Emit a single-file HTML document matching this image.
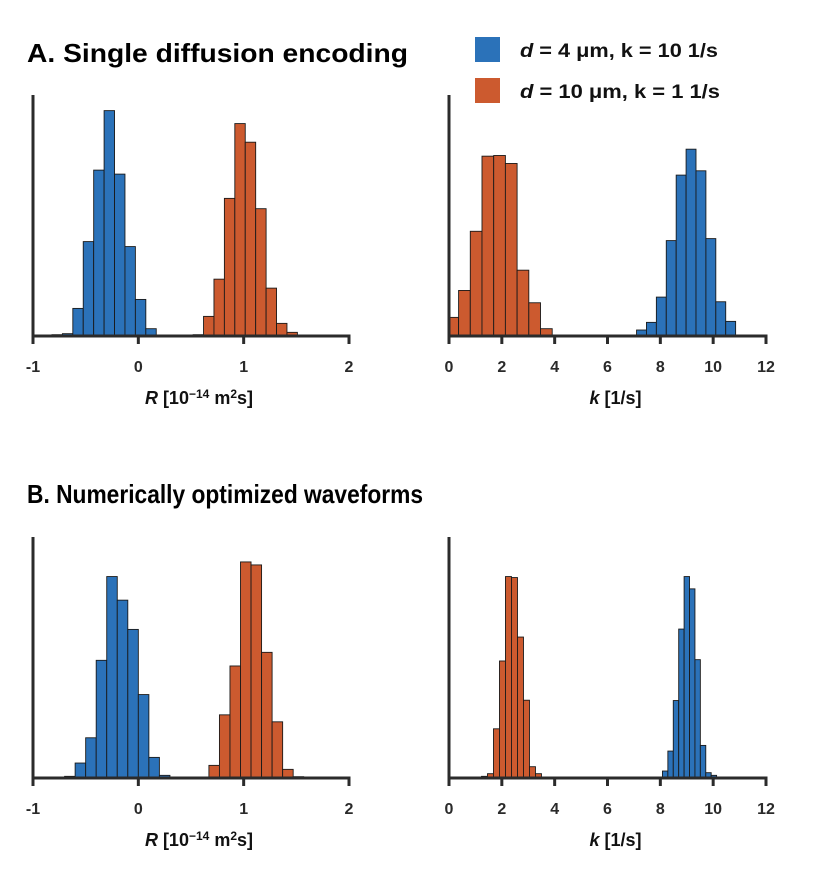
<!DOCTYPE html>
<html><head><meta charset="utf-8"><style>
body{margin:0;background:#fff;}
svg text{font-family:"Liberation Sans",Arial,sans-serif;font-weight:bold;}
</style></head><body>
<svg id="fig" width="816" height="888" viewBox="0 0 816 888" xmlns="http://www.w3.org/2000/svg">
<text x="27" y="62" font-size="26" textLength="381" lengthAdjust="spacingAndGlyphs" fill="#000">A. Single diffusion encoding</text>
<text x="27" y="503" font-size="26" textLength="396" lengthAdjust="spacingAndGlyphs" fill="#000">B. Numerically optimized waveforms</text>
<g>
<rect x="475" y="37" width="25" height="25" fill="#2b72b9"/>
<text x="520" y="57" font-size="19" textLength="198" lengthAdjust="spacingAndGlyphs" fill="#111"><tspan font-style="italic">d</tspan> = 4 μm, k = 10 1/s</text>
<rect x="475" y="78" width="25" height="25" fill="#cc5a2f"/>
<text x="520" y="98" font-size="19" textLength="200" lengthAdjust="spacingAndGlyphs" fill="#111"><tspan font-style="italic">d</tspan> = 10 μm, k = 1 1/s</text>
</g>
</svg>
<script>
// Panel A left (R)
const aR_ticks = [-1, 0, 1, 2];
const aR_blueStart = -0.82, aR_blueWidth = 0.099;
const aR_blueCounts = [4, 7, 83, 284, 499, 678, 487, 269, 110, 22];
const aR_orangeStart = 0.52, aR_orangeWidth = 0.099;
const aR_orangeCounts = [4, 59, 171, 414, 639, 583, 383, 144, 38, 11];
// Panel A right (k)
const aK_ticks = [0, 2, 4, 6, 8, 10, 12];
const aK_orangeStart = -0.08, aK_orangeWidth = 0.443;
const aK_orangeCounts = [56, 137, 315, 541, 543, 519, 198, 100, 22];
const aK_blueStart = 7.10, aK_blueWidth = 0.375;
const aK_blueCounts = [18, 41, 117, 287, 484, 562, 497, 293, 103, 44];
// Panel B left (R)
const bR_ticks = [-1, 0, 1, 2];
const bR_blueStart = -0.70, bR_blueWidth = 0.1;
const bR_blueCounts = [5, 45, 121, 354, 606, 535, 447, 251, 62, 8];
const bR_orangeStart = 0.57, bR_orangeWidth = 0.1;
const bR_orangeCounts = [2, 38, 190, 337, 650, 641, 378, 169, 26, 4];
// Panel B right (k)
const bK_ticks = [0, 2, 4, 6, 8, 10, 12];
const bK_orangeStart = 1.23, bK_orangeWidth = 0.227;
const bK_orangeCounts = [5, 13, 148, 352, 606, 603, 424, 234, 34, 13];
const bK_blueStart = 8.08, bK_blueWidth = 0.205;
const bK_blueCounts = [21, 81, 233, 448, 606, 569, 356, 98, 16, 8];

const NS = "http://www.w3.org/2000/svg";
const svg = document.getElementById('fig');
const BLUE = "#2b72b9", ORANGE = "#cc5a2f", AX = "#2b2b2b";
const YMAX = 725;

function mk(tag, attrs, parent) {
  const e = document.createElementNS(NS, tag);
  for (const k in attrs) e.setAttribute(k, attrs[k]);
  (parent || svg).appendChild(e);
  return e;
}

function panel(name, x0, x1, base, top, dmin, dmax, ticks, series, label) {
  const g = mk('g', {});
  
  
  const xs = v => x0 + (v - dmin) / (dmax - dmin) * (x1 - x0);
  const ys = c => base - c / YMAX * (base - top);
  series.forEach(s => {
    s.counts.forEach((c, i) => {
      let a = s.start + i * s.width, b = a + s.width;
      if (a < dmin) a = dmin;
      const r = mk('rect', {x: xs(a), y: ys(c), width: xs(b) - xs(a), height: base - ys(c),
        fill: s.color, stroke: '#1a1a1a', 'stroke-width': 0.9}, g);
      
      
    });
  });
  const ya = mk('line', {x1: x0, y1: top, x2: x0, y2: base + 1.5, stroke: AX, 'stroke-width': 3}, g);
  
  
  const xa = mk('line', {x1: x0 - 1.5, y1: base, x2: x1 + 1.5, y2: base, stroke: AX, 'stroke-width': 3}, g);
  
  
  ticks.forEach(t => {
    const tl = mk('line', {x1: xs(t), y1: base, x2: xs(t), y2: base + 8, stroke: AX, 'stroke-width': 3}, g);
    
    
    const tt = mk('text', {x: xs(t), y: base + 36, 'text-anchor': 'middle', 'font-size': 16, fill: '#2a2a2a'}, g);
    tt.textContent = String(t);
    
    
  });
  const lab = mk('text', {x: (x0 + x1) / 2 + 8, y: base + 68, 'text-anchor': 'middle', 'font-size': 18, fill: '#111'}, g);
  lab.innerHTML = label;
  
  
}

const rLabel = '<tspan font-style="italic">R</tspan> [10<tspan font-size="12" dy="-6">−14</tspan><tspan dy="6"> m</tspan><tspan font-size="12" dy="-6">2</tspan><tspan dy="6">s]</tspan>';
const kLabel = '<tspan font-style="italic">k</tspan> [1/s]';

panel('panel-a-r-histogram', 33, 349, 336, 95, -1, 2, aR_ticks, [
  {name: 'blue', start: aR_blueStart, width: aR_blueWidth, counts: aR_blueCounts, color: BLUE},
  {name: 'orange', start: aR_orangeStart, width: aR_orangeWidth, counts: aR_orangeCounts, color: ORANGE}], rLabel);
panel('panel-a-k-histogram', 449, 766, 336, 95, 0, 12, aK_ticks, [
  {name: 'orange', start: aK_orangeStart, width: aK_orangeWidth, counts: aK_orangeCounts, color: ORANGE},
  {name: 'blue', start: aK_blueStart, width: aK_blueWidth, counts: aK_blueCounts, color: BLUE}], kLabel);
panel('panel-b-r-histogram', 33, 349, 778, 537, -1, 2, bR_ticks, [
  {name: 'blue', start: bR_blueStart, width: bR_blueWidth, counts: bR_blueCounts, color: BLUE},
  {name: 'orange', start: bR_orangeStart, width: bR_orangeWidth, counts: bR_orangeCounts, color: ORANGE}], rLabel);
panel('panel-b-k-histogram', 449, 766, 778, 537, 0, 12, bK_ticks, [
  {name: 'orange', start: bK_orangeStart, width: bK_orangeWidth, counts: bK_orangeCounts, color: ORANGE},
  {name: 'blue', start: bK_blueStart, width: bK_blueWidth, counts: bK_blueCounts, color: BLUE}], kLabel);
</script>
</body></html>
